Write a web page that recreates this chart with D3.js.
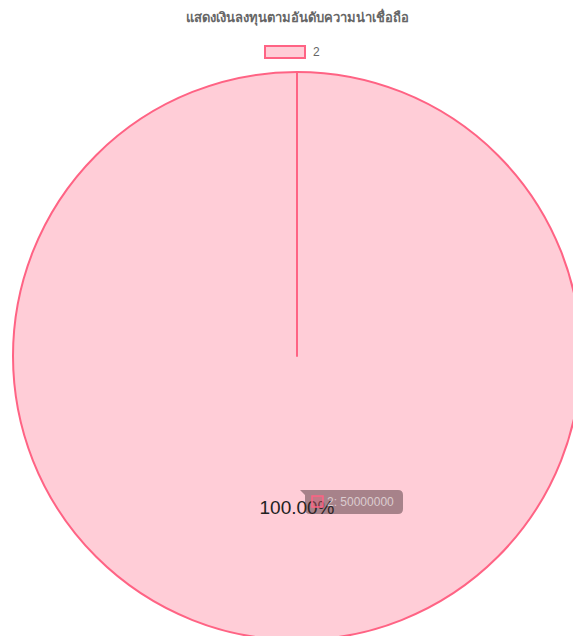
<!DOCTYPE html>
<html>
<head>
<meta charset="utf-8">
<script src="https://cdn.jsdelivr.net/npm/d3@7"></script>
<style>
  html, body { margin: 0; padding: 0; background: #fff; }
  svg { display: block; }
</style>
</head>
<body>
<svg id="chart" width="573" height="636"></svg>
<script>
// Investment amounts grouped by credit rating
const titleText = "แสดงเงินลงทุนตามอันดับความน่าเชื่อถือ";
const categories = ["2"];
const amounts = [50000000];

const fillColor = "rgba(255, 99, 132, 0.32)";
const strokeColor = "rgb(255, 99, 132)";
const fontStack = "'Liberation Sans', Arial, 'Noto Sans', 'DejaVu Sans', sans-serif";

const width = 573, height = 636;
const cx = 297, cy = 356, radius = 284;

const svg = d3.select("#chart");

// Title
svg.append("text")
  .attr("x", cx).attr("y", 22)
  .attr("text-anchor", "middle")
  .attr("font-family", fontStack)
  .attr("font-size", 13)
  .attr("font-weight", "bold")
  .attr("fill", "#666")
  .text(titleText);

// Legend
const legend = svg.append("g").attr("transform", "translate(264,45)");
categories.forEach((c, i) => {
  legend.append("rect")
    .attr("x", 1).attr("y", 1).attr("width", 40).attr("height", 12)
    .attr("fill", fillColor).attr("stroke", strokeColor).attr("stroke-width", 2);
  legend.append("text")
    .attr("x", 49).attr("y", 7)
    .attr("dominant-baseline", "central")
    .attr("font-family", fontStack).attr("font-size", 12)
    .attr("fill", "#666")
    .text(c);
});

// Pie
const total = d3.sum(amounts);
const pie = d3.pie().sort(null).value(d => d);
const arcs = pie(amounts);
const arc = d3.arc().innerRadius(0).outerRadius(radius);
const labelArc = d3.arc().innerRadius(radius * 0.535).outerRadius(radius * 0.535);

const g = svg.append("g").attr("transform", `translate(${cx},${cy})`);

g.selectAll("path.slice")
  .data(arcs)
  .join("path")
  .attr("class", "slice")
  .attr("d", arc)
  .attr("fill", fillColor)
  .attr("stroke", strokeColor)
  .attr("stroke-width", 2);

// Radial edge of each slice (start angle side)
g.selectAll("line.edge")
  .data(arcs)
  .join("line")
  .attr("class", "edge")
  .attr("x1", 0).attr("y1", 0)
  .attr("x2", d => radius * Math.sin(d.startAngle))
  .attr("y2", d => -radius * Math.cos(d.startAngle))
  .attr("stroke", strokeColor)
  .attr("stroke-width", 2)
  .attr("stroke-linecap", "round");

// Tooltip
const tip = svg.append("g").attr("transform", "translate(305,490)");
const tw = 98, th = 24, rr = 5;
tip.append("path")
  .attr("d", `M${rr},0 H${tw - rr} Q${tw},0 ${tw},${rr} V${th - rr} Q${tw},${th} ${tw - rr},${th} H${rr} Q0,${th} 0,${th - rr} V${rr} L-5,0 Z`)
  .attr("fill", "rgba(60, 40, 45, 0.45)");
tip.append("rect")
  .attr("x", 7).attr("y", 6).attr("width", 11).attr("height", 11)
  .attr("fill", fillColor).attr("stroke", strokeColor).attr("stroke-width", 1.5);
tip.append("text")
  .attr("x", 22).attr("y", 12)
  .attr("dominant-baseline", "central")
  .attr("font-family", fontStack).attr("font-size", 12)
  .attr("fill", "rgba(255,255,255,0.6)")
  .text(`${categories[0]}: ${amounts[0]}`);

// Percentage labels
g.selectAll("text.pct")
  .data(arcs)
  .join("text")
  .attr("class", "pct")
  .attr("transform", d => `translate(${labelArc.centroid(d)})`)
  .attr("text-anchor", "middle")
  .attr("dominant-baseline", "central")
  .attr("font-family", fontStack)
  .attr("font-size", 19)
  .attr("fill", "#222")
  .text(d => (d.value / total * 100).toFixed(2) + "%");
</script>
</body>
</html>
